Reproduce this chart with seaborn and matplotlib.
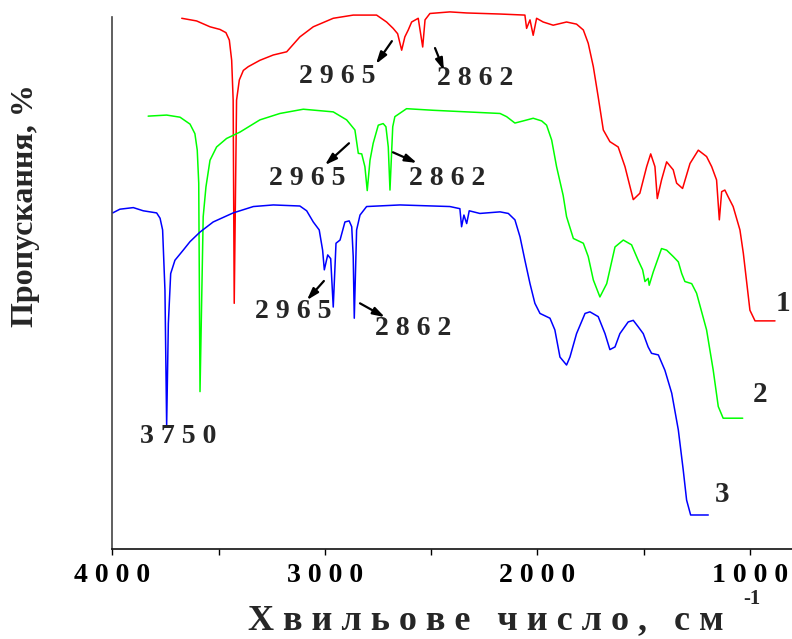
import numpy as np
import pandas as pd
import matplotlib
matplotlib.use("Agg")
import matplotlib.pyplot as plt
import seaborn as sns

# ---- data (wavenumber, cm-1 ; transmittance, arbitrary %, curves offset) ----
wn1 = [3674, 3604, 3541, 3494, 3466, 3450, 3439, 3432, 3427, 3416, 3403, 3384, 3361, 3306,
       3243, 3180, 3118, 3055, 2961, 2867, 2757, 2710, 2679, 2658, 2639, 2624, 2608, 2592,
       2561, 2540, 2529, 2506, 2412, 2333, 2176, 2059, 2051, 2035, 2020, 2004, 1973, 1926,
       1863, 1816, 1784, 1761, 1737, 1714, 1690, 1659, 1620, 1588, 1549, 1518, 1486, 1467,
       1447, 1436, 1416, 1392, 1361, 1345, 1317, 1282, 1243, 1204, 1180, 1157, 1144, 1133,
       1118, 1102, 1079, 1047, 1031, 1000, 976, 882]
t1 = [99.8, 99.3, 98.2, 97.7, 97.1, 95.7, 91.9, 84.4, 46.2, 84.4, 88.2, 90.0, 90.7, 91.9,
      92.9, 93.5, 96.3, 98.2, 99.8, 100.4, 100.4, 99.1, 97.9, 96.9, 93.8, 96.3, 97.6, 99.1,
      99.8, 94.4, 99.5, 100.7, 101.0, 100.8, 100.6, 100.4, 97.9, 99.5, 96.6, 99.8, 99.1, 98.5,
      99.1, 98.7, 97.6, 95.1, 90.7, 85.0, 78.8, 76.6, 75.6, 71.9, 65.7, 66.9, 71.9, 74.3,
      71.9, 65.9, 69.4, 72.8, 71.3, 68.8, 67.8, 72.5, 75.0, 73.8, 71.9, 69.4, 61.9, 67.2,
      67.5, 66.2, 64.4, 60.0, 55.6, 44.9, 42.9, 42.9]

wn2 = [3832, 3745, 3682, 3635, 3612, 3601, 3594, 3588, 3573, 3560, 3541, 3510, 3463, 3400,
       3306, 3212, 3102, 2961, 2898, 2859, 2843, 2827, 2812, 2801, 2788, 2773, 2749, 2726,
       2713, 2702, 2694, 2681, 2671, 2616, 2490, 2333, 2176, 2145, 2106, 2067, 2020, 1980,
       1957, 1933, 1910, 1879, 1863, 1831, 1784, 1761, 1737, 1706, 1674, 1635, 1596, 1557,
       1526, 1505, 1494, 1479, 1474, 1455, 1416, 1392, 1361, 1337, 1321, 1306, 1274, 1251,
       1204, 1173, 1149, 1126, 1034]
t2 = [81.4, 81.6, 81.2, 79.9, 78.1, 75.0, 68.8, 29.6, 62.5, 68.1, 73.1, 75.6, 77.2, 78.4,
      80.7, 81.9, 82.7, 82.2, 80.7, 78.8, 74.4, 74.3, 71.9, 67.4, 73.1, 76.3, 79.7, 80.0,
      79.4, 75.6, 67.5, 79.4, 81.3, 82.8, 82.5, 82.2, 81.9, 81.3, 80.1, 80.5, 81.0, 80.5,
      79.7, 76.9, 71.9, 66.5, 62.5, 58.4, 57.5, 55.0, 50.6, 47.4, 49.9, 56.8, 58.1, 57.2,
      54.3, 52.5, 50.3, 50.9, 49.6, 52.1, 56.5, 56.2, 55.0, 54.0, 51.8, 50.3, 49.9, 48.1,
      41.2, 33.7, 26.8, 24.6, 24.6]

wn3 = [3999, 3965, 3902, 3855, 3792, 3776, 3764, 3753, 3745, 3737, 3726, 3706, 3667, 3635,
       3588, 3526, 3432, 3337, 3243, 3118, 3086, 3055, 3027, 3011, 3003, 2987, 2973, 2961,
       2948, 2929, 2906, 2886, 2874, 2867, 2862, 2851, 2835, 2804, 2647, 2412, 2365, 2357,
       2346, 2333, 2321, 2271, 2176, 2137, 2106, 2082, 2059, 2035, 2012, 1988, 1941, 1918,
       1894, 1863, 1847, 1816, 1776, 1753, 1714, 1682, 1659, 1635, 1612, 1573, 1549, 1526,
       1502, 1479, 1463, 1431, 1400, 1368, 1337, 1314, 1298, 1279, 1196]
t3 = [63.2, 63.9, 64.2, 63.6, 63.2, 62.2, 60.0, 48.7, 23.3, 42.4, 51.8, 54.3, 56.2, 57.8,
      59.6, 61.5, 63.2, 64.4, 64.7, 64.5, 63.6, 61.5, 60.0, 56.2, 52.5, 55.3, 54.6, 45.5,
      57.5, 58.1, 61.5, 61.7, 60.6, 55.0, 43.4, 60.0, 62.8, 64.4, 64.7, 64.4, 64.0, 60.6,
      62.8, 61.2, 63.6, 63.1, 63.4, 63.1, 61.9, 58.7, 54.3, 49.9, 46.2, 44.3, 43.4, 41.2,
      36.1, 34.6, 36.1, 40.5, 44.3, 44.6, 43.7, 40.5, 37.5, 38.0, 40.5, 42.7, 43.0, 41.8,
      40.5, 38.0, 36.8, 36.5, 33.6, 29.3, 22.4, 14.9, 9.2, 6.4, 6.4]

curve_names = ["1", "2", "3"]
curve_colors = ["#ff0000", "#00ff00", "#0000ff"]

# peak labels: (text, x, y) and arrows (tail x, tail y, head x, head y)
peak_texts = ["2 9 6 5", "2 8 6 2", "2 9 6 5", "2 8 6 2", "2 9 6 5", "2 8 6 2", "3 7 5 0"]
peak_x = [2944, 2294, 3085, 2426, 3151, 2586, 3692]
peak_y = [88.9, 88.5, 69.7, 69.7, 44.7, 41.5, 21.2]
arrow_tail_x = [2685, 2482, 2887, 2680, 3005, 2835]
arrow_tail_y = [95.5, 94.2, 76.3, 74.6, 50.4, 46.2]
arrow_head_x = [2760, 2440, 3000, 2567, 3085, 2718]
arrow_head_y = [91.2, 90.0, 72.2, 72.6, 46.8, 43.6]
num_x = [845, 953, 1132]
num_y = [46.2, 29.0, 10.2]

tick_vals = [4000, 3000, 2000, 1000]
tick_labels = ["4 0 0 0", "3 0 0 0", "2 0 0 0", "1 0 0 0"]
minor_vals = [3500, 2500, 1500]

# ---- build frame ----
frames = []
for name, w, t in zip(curve_names, [wn1, wn2, wn3], [t1, t2, t3]):
    frames.append(pd.DataFrame({"wn": w, "T": t, "curve": name,
                                "order": np.arange(len(w))}))
df = pd.concat(frames, ignore_index=True)

sns.set_style("white")
plt.rcParams["font.family"] = ["Liberation Serif", "DejaVu Serif"]
plt.rcParams["font.weight"] = "bold"

fig = plt.figure(figsize=(7.92, 6.39), dpi=100)
ax = fig.add_axes([0.142, 0.1408, 0.858, 0.8514])

sns.lineplot(data=df, x="wn", y="T", hue="curve", palette=curve_colors,
             sort=False, estimator=None, units="curve", linewidth=1.1,
             legend=False, ax=ax)

ax.set_xlim(4000, 802)
ax.set_ylim(0, 102.3)
for s in ["top", "right"]:
    ax.spines[s].set_visible(False)
ax.spines["left"].set_bounds(0, 100)
ax.spines["left"].set_color("#444444")
ax.spines["bottom"].set_color("#111111")
for s in ["left", "bottom"]:
    ax.spines[s].set_linewidth(1.2)

ax.set_yticks([])
ax.set_xticks(tick_vals)
ax.set_xticklabels(tick_labels, fontsize=20, fontweight="bold")
ax.set_xticks(minor_vals, minor=True)
ax.tick_params(axis="x", which="both", direction="out", length=4, width=1,
               bottom=True, pad=6, colors="black")
ax.set_xlabel("")
ax.set_ylabel("")

for txt, x, y in zip(peak_texts, peak_x, peak_y):
    ax.text(x, y, txt, fontsize=20, fontweight="bold", ha="center", va="center")
for tx, ty, hx, hy in zip(arrow_tail_x, arrow_tail_y, arrow_head_x, arrow_head_y):
    ax.annotate("", xy=(hx, hy), xytext=(tx, ty),
                arrowprops=dict(arrowstyle="-|>,head_length=0.7,head_width=0.22",
                                color="black", lw=1.6, shrinkA=0, shrinkB=0))
for name, x, y in zip(curve_names, num_x, num_y):
    ax.text(x, y, name, fontsize=21, fontweight="bold", ha="center", va="center")

fig.text(0.614, 0.029, "Х в и л ь о в е   ч и с л о ,   с м", fontsize=26,
         fontweight="bold", ha="center", va="center")
fig.text(0.949, 0.062, "-1", fontsize=15, fontweight="bold", ha="center", va="center")
fig.text(0.032, 0.679, "Пропускання, %", fontsize=23, fontweight="bold",
         rotation=90, ha="center", va="center")

fig.savefig("out.png", dpi=100)
